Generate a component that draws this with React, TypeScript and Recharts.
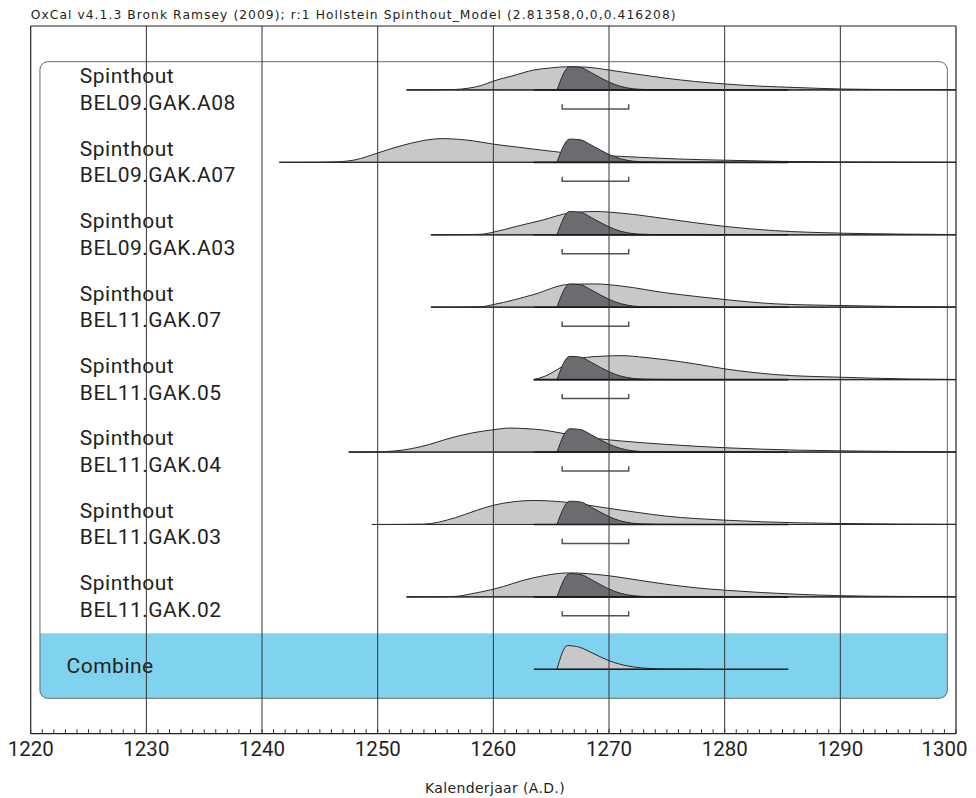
import React from 'react';
import { ComposedChart, Area, Line, XAxis, YAxis, ReferenceLine, ReferenceArea, Scatter } from 'recharts';

type Pt = [number, number];

// ---------- text ----------
const HEADER = 'OxCal v4.1.3 Bronk Ramsey (2009); r:1 Hollstein Spinthout_Model (2.81358,0,0,0.416208)';
const AXIS_TITLE = 'Kalenderjaar (A.D.)';
const SITE = 'Spinthout';
const ROW_NAMES = ['BEL09.GAK.A08', 'BEL09.GAK.A07', 'BEL09.GAK.A03', 'BEL11.GAK.07', 'BEL11.GAK.05', 'BEL11.GAK.04', 'BEL11.GAK.03', 'BEL11.GAK.02'];
const COMBINE_NAME = 'Combine';

// ---------- axis ----------
const X_DOMAIN: [number, number] = [1220, 1300];
const YEAR_TICKS = [
  1220, 1221, 1222, 1223, 1224, 1225, 1226, 1227, 1228, 1229,
  1230, 1231, 1232, 1233, 1234, 1235, 1236, 1237, 1238, 1239,
  1240, 1241, 1242, 1243, 1244, 1245, 1246, 1247, 1248, 1249,
  1250, 1251, 1252, 1253, 1254, 1255, 1256, 1257, 1258, 1259,
  1260, 1261, 1262, 1263, 1264, 1265, 1266, 1267, 1268, 1269,
  1270, 1271, 1272, 1273, 1274, 1275, 1276, 1277, 1278, 1279,
  1280, 1281, 1282, 1283, 1284, 1285, 1286, 1287, 1288, 1289,
  1290, 1291, 1292, 1293, 1294, 1295, 1296, 1297, 1298, 1299, 1300,
];
const GRID_YEARS = [1230, 1240, 1250, 1260, 1270, 1280, 1290];

// ---------- distributions: [year, relative probability %] ----------
const LIK_A08: Pt[] = [[1252.5, 0], [1255, 0.5], [1256.7, 2], [1257.8, 7], [1259, 19], [1260, 37], [1261.6, 58], [1263.5, 83], [1265, 92], [1266.5, 97], [1268, 95], [1270, 83], [1272.5, 65], [1274.9, 49], [1277.5, 35], [1280, 25], [1283, 16], [1286.3, 10], [1290, 4], [1295, 1.5], [1300, 0.5]];
const LIK_A07: Pt[] = [[1241.5, 0], [1245, 0.5], [1246.4, 2], [1248, 10], [1250, 39], [1251.5, 62], [1252.9, 80], [1254.2, 93], [1255.5, 99], [1257, 96], [1258.2, 90], [1260, 76], [1262, 64], [1263.5, 55], [1265.8, 42], [1268, 32], [1271, 25], [1276, 14], [1280, 9], [1285, 4], [1290, 2], [1300, 0.5]];
const LIK_A03: Pt[] = [[1254.6, 0], [1257, 0.5], [1258.9, 2], [1260, 11], [1262, 35], [1264.3, 62], [1266.5, 90], [1268.8, 97], [1271.1, 90], [1274.9, 67], [1277.5, 50], [1280, 35], [1284.4, 17], [1290, 7], [1295, 3], [1300, 1]];
const LIK_07: Pt[] = [[1254.6, 0], [1257, 0.5], [1258.9, 2], [1260, 11], [1263.5, 53], [1266.5, 95], [1268.8, 97], [1271.1, 88], [1274.9, 60], [1277.5, 45], [1280, 32], [1284.4, 14], [1290, 7], [1295, 3], [1300, 1]];
const LIK_05: Pt[] = [[1263.5, 0], [1264.5, 15], [1266, 55], [1267.7, 90], [1269.5, 98], [1271.1, 100], [1273, 93], [1274.9, 83], [1277.5, 65], [1280, 45], [1284.4, 21], [1290, 10], [1295.8, 3], [1300, 1]];
const LIK_04: Pt[] = [[1247.5, 0], [1250, 1], [1252.9, 14], [1254.5, 32], [1255.9, 53], [1258.2, 80], [1260, 93], [1261.4, 100], [1263, 97], [1264.3, 92], [1266.2, 76], [1269.2, 55], [1271.1, 46], [1274.9, 32], [1280, 18], [1286.3, 8], [1290, 5], [1295.8, 2], [1300, 1]];
const LIK_03: Pt[] = [[1249.5, 0], [1252, 0.3], [1254, 1.5], [1256.7, 28], [1258.5, 58], [1260, 80], [1261.8, 95], [1263.5, 100], [1265.8, 95], [1268, 82], [1270, 67], [1272.5, 50], [1274.9, 35], [1280, 18], [1286.3, 7], [1290, 4], [1295, 2], [1300, 1]];
const LIK_02: Pt[] = [[1252.5, 0], [1255, 0.5], [1256.7, 2], [1258, 12], [1260, 32], [1263.5, 80], [1266.5, 100], [1270, 88], [1272.5, 70], [1274.9, 53], [1277.5, 38], [1280, 28], [1286.3, 11], [1290, 5], [1295, 2], [1300, 1]];
const LIKELIHOODS = [LIK_A08, LIK_A07, LIK_A03, LIK_07, LIK_05, LIK_04, LIK_03, LIK_02];

const POSTERIOR: Pt[] = [[1265.5, 0], [1266.6, 97], [1267.5, 94], [1268.5, 71], [1269.3, 50], [1270, 33], [1271, 15], [1272, 5.5], [1273, 2], [1275, 0.4], [1280, 0]];
const COMBINE: Pt[] = [[1265.5, 0], [1266.4, 99], [1267.45, 92], [1268.6, 67], [1270, 36], [1271.5, 15], [1272.9, 5.5], [1274.9, 1], [1278, 0]];
const POSTERIOR_SPAN = [1263.5, 1285.5];
const RANGE_95 = [1265.95, 1271.7];

// ---------- layout / style ----------
const Y_DOMAIN: [number, number] = [-0.889, 8.883];
const PEAK = 0.3314; // row units for 100 %
const BOX_X = [1220.8, 1299.25];
const BOX_Y = [-0.4, 8.39];
const BAND_TOP = 0.497;
const BRACKET_TICK = 0.197;
const BRACKET_LINE = 0.262;
const LABEL_YEAR = 1224.25;
const COMBINE_LABEL_YEAR = 1223.1;

const LIGHT = '#c8c8ca';
const DARK = '#6c6c70';
const OUTLINE = '#2a2a2a';
const BLUE = '#80d3ee';
const FONT = 'Roboto, "Liberation Sans", sans-serif';
const SMALL_FONT = '"DejaVu Sans", sans-serif';
const W = 960;
const H = 790;

const toArea = (pts: Pt[], base: number) => pts.map(([x, p]) => ({ x, y: [base, base + (p / 100) * PEAK] }));

const ROWS = ROW_NAMES.map((name, i) => ({ name, base: ROW_NAMES.length - i, lik: LIKELIHOODS[i] }));
const COMBINE_BASE = 0;

const YearTick = (props: any) => {
  const { x, y, payload } = props;
  const v = payload.value;
  const major = v % 10 === 0;
  const last = v === X_DOMAIN[1];
  return (
    <g>
      <line x1={x} x2={x} y1={y} y2={y - 4.5} stroke="#333" strokeWidth={1} />
      {major && (
        <text
          x={last ? x + 11.5 : x}
          y={y + 22}
          textAnchor={last ? 'end' : 'middle'}
          fontFamily={FONT}
          fontSize={20.5}
          fill="#231f20"
        >
          {v}
        </text>
      )}
    </g>
  );
};

const RoundBox = (props: any) => {
  const { x, y, width, height } = props;
  return <rect x={x} y={y} width={width} height={height} rx={8} ry={8} fill="none" stroke="#666" strokeWidth={1} />;
};

const BlueBand = (props: any) => {
  const { x, y, width, height } = props;
  const r = 8;
  const d = `M${x},${y} L${x + width},${y} L${x + width},${y + height - r} Q${x + width},${y + height} ${x + width - r},${y + height} L${x + r},${y + height} Q${x},${y + height} ${x},${y + height - r} Z`;
  return <path d={d} fill={BLUE} stroke="none" />;
};

const labelStyle = { letterSpacing: '0.5px' };

const RowLabel = (props: any) => {
  const { cx, cy, payload } = props;
  if (payload.l2) {
    return (
      <g>
        <text x={cx} y={cy - 6.7} fontFamily={FONT} fontSize={21} fill="#231f20" style={labelStyle}>{payload.l1}</text>
        <text x={cx} y={cy + 20} fontFamily={FONT} fontSize={21} fill="#231f20" style={labelStyle}>{payload.l2}</text>
      </g>
    );
  }
  return <text x={cx} y={cy + 3.4} fontFamily={FONT} fontSize={21} fill="#231f20" style={labelStyle}>{payload.l1}</text>;
};

const LABEL_DATA = [
  ...ROWS.map((r) => ({ x: LABEL_YEAR, y: r.base, l1: SITE, l2: r.name })),
  { x: COMBINE_LABEL_YEAR, y: COMBINE_BASE, l1: COMBINE_NAME, l2: '' },
];

export default function App() {
  return (
    <div style={{ position: 'relative', width: W, height: H }}>
      <ComposedChart width={W} height={H} margin={{ top: 18, right: 12, bottom: 14.3, left: 22.7 }}>
        <XAxis
          dataKey="x"
          type="number"
          domain={X_DOMAIN}
          ticks={YEAR_TICKS}
          interval={0}
          tick={YearTick}
          tickLine={false}
          tickSize={0}
          tickMargin={0}
          axisLine={{ stroke: '#222', strokeWidth: 1.2 }}
          height={50}
          allowDataOverflow
        />
        <YAxis type="number" domain={Y_DOMAIN} hide allowDataOverflow />

        <ReferenceArea x1={BOX_X[0]} x2={BOX_X[1]} y1={BOX_Y[0]} y2={BAND_TOP} shape={BlueBand} ifOverflow="visible" zIndex={-300} />
        <ReferenceArea x1={BOX_X[0]} x2={BOX_X[1]} y1={BOX_Y[0]} y2={BOX_Y[1]} shape={RoundBox} ifOverflow="visible" zIndex={-250} />

        {ROWS.map((r) => (
          <Area
            key={'lik' + r.name}
            data={toArea(r.lik, r.base)}
            dataKey="y"
            type="monotone"
            fill={LIGHT}
            fillOpacity={1}
            stroke={OUTLINE}
            strokeWidth={1}
            dot={false}
            activeDot={false}
            isAnimationActive={false}
          />
        ))}
        {ROWS.map((r) => (
          <Area
            key={'post' + r.name}
            data={toArea(POSTERIOR, r.base)}
            dataKey="y"
            type="monotone"
            fill={DARK}
            fillOpacity={1}
            stroke={OUTLINE}
            strokeWidth={1}
            dot={false}
            activeDot={false}
            isAnimationActive={false}
          />
        ))}
        <Area
          data={toArea(COMBINE, COMBINE_BASE)}
          dataKey="y"
          type="monotone"
          fill={LIGHT}
          fillOpacity={1}
          stroke={OUTLINE}
          strokeWidth={1}
          dot={false}
          activeDot={false}
          isAnimationActive={false}
        />

        {ROWS.map((r) => (
          <Line
            key={'bl' + r.name}
            data={[{ x: r.lik[0][0], y: r.base }, { x: X_DOMAIN[1], y: r.base }]}
            dataKey="y"
            stroke={OUTLINE}
            strokeWidth={1.2}
            dot={false}
            activeDot={false}
            isAnimationActive={false}
          />
        ))}
        {[...ROWS.map((r) => r.base), COMBINE_BASE].map((b) => (
          <Line
            key={'pb' + b}
            data={[{ x: POSTERIOR_SPAN[0], y: b }, { x: POSTERIOR_SPAN[1], y: b }]}
            dataKey="y"
            stroke="#1a1a1a"
            strokeWidth={1.6}
            dot={false}
            activeDot={false}
            isAnimationActive={false}
          />
        ))}
        {ROWS.map((r) => (
          <Line
            key={'br' + r.name}
            data={[
              { x: RANGE_95[0], y: r.base - BRACKET_TICK },
              { x: RANGE_95[0], y: r.base - BRACKET_LINE },
              { x: RANGE_95[1], y: r.base - BRACKET_LINE },
              { x: RANGE_95[1], y: r.base - BRACKET_TICK },
            ]}
            dataKey="y"
            type="linear"
            stroke="#555"
            strokeWidth={1.5}
            dot={false}
            activeDot={false}
            isAnimationActive={false}
          />
        ))}

        <Scatter data={LABEL_DATA} dataKey="y" shape={RowLabel} isAnimationActive={false} />

        {GRID_YEARS.map((g) => (
          <ReferenceLine key={'g' + g} x={g} stroke="#333" strokeWidth={1} ifOverflow="visible" zIndex={700} />
        ))}
        <ReferenceLine x={X_DOMAIN[0]} stroke="#222" strokeWidth={1.2} ifOverflow="visible" zIndex={700} />
        <ReferenceLine x={X_DOMAIN[1]} stroke="#222" strokeWidth={1.2} ifOverflow="visible" zIndex={700} />
        <ReferenceLine y={Y_DOMAIN[1]} stroke="#222" strokeWidth={1.2} ifOverflow="visible" zIndex={700} />
      </ComposedChart>
      <svg width={W} height={H} style={{ position: 'absolute', left: 0, top: 0, pointerEvents: 'none' }}>
        <text x={22.7} y={11.3} fontFamily={SMALL_FONT} fontSize={12.3} fill="#231f20" style={{ letterSpacing: '1.05px' }}>{HEADER}</text>
        <text x={487} y={785} textAnchor="middle" fontFamily={SMALL_FONT} fontSize={14} fill="#231f20" style={{ letterSpacing: '0.35px' }}>{AXIS_TITLE}</text>
      </svg>
    </div>
  );
}
